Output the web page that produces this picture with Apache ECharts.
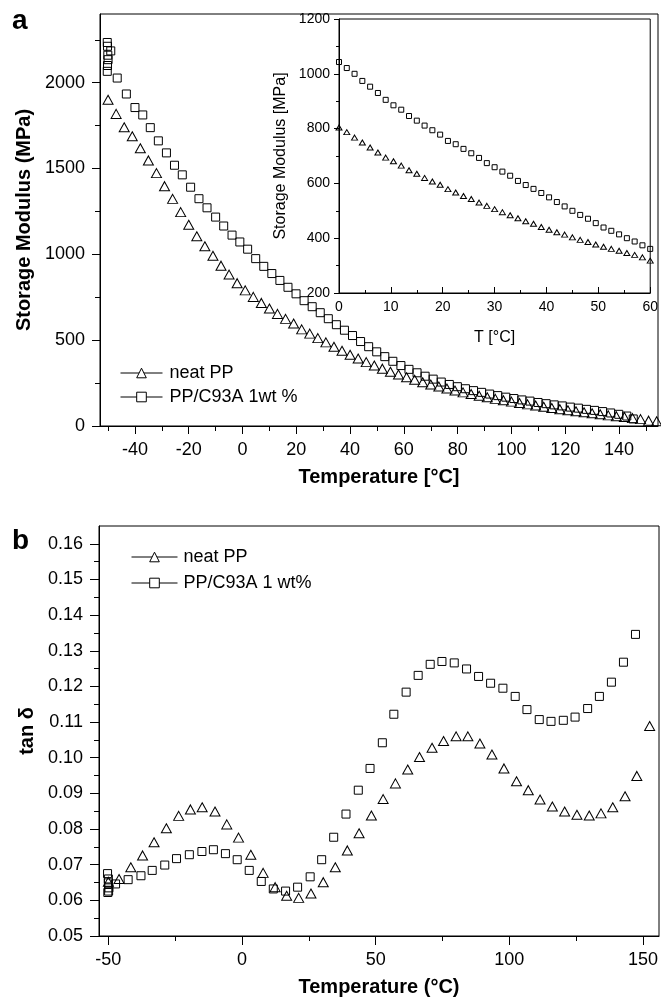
<!DOCTYPE html>
<html><head><meta charset="utf-8">
<script src="https://cdn.jsdelivr.net/npm/echarts@6/dist/echarts.min.js"></script>
<style>html,body{margin:0;padding:0;background:#fff}#c{width:661px;height:1000px}</style>
</head><body><div id="c"></div>
<script>
// ---------------- DATA ----------------
// Panel a, main plot: storage modulus (MPa) vs temperature (°C)
const mainNeatT = [-50,-47,-44,-41,-38,-35,-32,-29,-26,-23,-20,-17,-14,-11,-8,-5,-2,1,4,7,10,13,16,19,22,25,28,31,34,37,40,43,46,49,52,55,58,61,64,67,70,73,76,79,82,85,88,91,94,97,100,103,106,109,112,115,118,121,124,127,130,133,136,139,142,145,148,151,154];
const mainNeatM = [1900,1818,1740,1688,1618,1547,1473,1397,1323,1246,1172,1105,1047,992,934,882,832,790,752,717,684,653,624,597,563,538,512,487,462,438,415,393,372,352,334,316,300,284,269,255,242,230,218,207,196,186,176,167,158,150,142,134,126,119,112,105,98,92,86,80,74,68,62,57,52,46,40,31,28];
const mainNanoT = [-50.3,-50.2,-49.0,-50.1,-50.0,-50.2,-50.3,-46.6,-43.2,-40.0,-37.1,-34.3,-31.3,-28.3,-25.3,-22.4,-19.3,-16.2,-13.2,-10.0,-7.0,-3.9,-1.0,1.9,4.9,7.9,10.9,13.9,16.9,19.9,22.9,25.9,28.9,31.9,34.9,37.9,40.9,43.9,46.9,49.9,52.9,55.9,58.9,61.9,64.9,67.9,70.9,73.9,76.9,79.9,82.9,85.9,88.9,91.9,94.9,97.9,100.9,103.9,106.9,109.9,112.9,115.9,118.9,121.9,124.9,127.9,130.9,133.9,136.9,139.9,142.9,145.3];
const mainNanoM = [2234,2212,2185,2160,2134,2100,2066,2027,1934,1855,1812,1738,1661,1591,1519,1463,1391,1324,1271,1217,1165,1112,1072,1030,975,930,888,848,808,770,730,695,660,625,590,558,527,492,462,432,404,377,352,330,310,290,273,256,242,229,217,206,196,186,177,168,160,152,145,137,130,123,117,110,104,97,91,84,76,68,58,41];
// Panel a, inset: 0-60 °C
const insetT = [0,1.5,3,4.5,6,7.5,9,10.5,12,13.5,15,16.5,18,19.5,21,22.5,24,25.5,27,28.5,30,31.5,33,34.5,36,37.5,39,40.5,42,43.5,45,46.5,48,49.5,51,52.5,54,55.5,57,58.5,60];
const insetNeatM = [804,787,767,749,731,713,694,681,665,648,635,620,607,595,579,567,554,543,530,518,506,495,484,473,462,453,441,431,422,413,403,394,386,377,369,361,354,346,339,330,318];
const insetNanoM = [1043,1021,1000,974,953,930,905,885,869,846,829,811,794,778,755,743,726,710,693,674,659,643,628,609,594,580,565,549,532,516,500,485,471,455,439,427,414,400,388,374,361];
// Panel b: tan delta vs temperature (°C)
const tanNeatT = [-50,-46.0,-41.6,-37.2,-32.9,-28.3,-23.7,-19.3,-14.9,-10.1,-5.7,-1.3,3.3,7.9,12.4,16.7,21.2,25.8,30.4,34.9,39.4,43.8,48.4,52.8,57.4,62.0,66.4,71.1,75.4,80.1,84.5,89.0,93.5,98.0,102.7,107.1,111.5,116.1,120.7,125.3,129.9,134.3,138.7,143.3,147.7,152.5];
const tanNeatV = [0.0652,0.0660,0.0693,0.0726,0.0763,0.0802,0.0837,0.0855,0.0861,0.0849,0.0813,0.0776,0.0728,0.0677,0.0637,0.0613,0.0607,0.0619,0.0651,0.0693,0.0740,0.0788,0.0838,0.0884,0.0928,0.0967,0.1002,0.1028,0.1047,0.1060,0.1060,0.1040,0.1009,0.0970,0.0934,0.0909,0.0883,0.0863,0.0849,0.0840,0.0838,0.0844,0.0861,0.0892,0.0949,0.1089];
const tanNanoT = [-50.3,-50.0,-50.0,-49.8,-49.9,-50.2,-47.3,-42.6,-37.8,-33.6,-28.9,-24.5,-19.7,-15.0,-10.7,-6.2,-1.8,2.7,7.2,11.7,16.3,20.8,25.5,29.8,34.3,38.9,43.5,47.9,52.5,56.8,61.4,65.9,70.4,74.8,79.4,84.0,88.5,93.0,97.6,102.2,106.6,111.2,115.6,120.2,124.6,129.3,133.7,138.2,142.7,147.2];
const tanNanoV = [0.0675,0.0660,0.0649,0.0635,0.0626,0.0622,0.0646,0.0658,0.0669,0.0684,0.0699,0.0717,0.0728,0.0737,0.0742,0.0731,0.0714,0.0684,0.0653,0.0632,0.0626,0.0637,0.0666,0.0714,0.0777,0.0842,0.0909,0.0970,0.1042,0.1122,0.1184,0.1231,0.1262,0.1270,0.1266,0.1249,0.1228,0.1209,0.1195,0.1172,0.1135,0.1107,0.1102,0.1105,0.1114,0.1138,0.1172,0.1212,0.1268,0.1346];

// Tick values / labels
const mainXTicks = [-40,-20,0,20,40,60,80,100,120,140];
const mainXMinor = [-50,-30,-10,10,30,50,70,90,110,130,150];
const mainYTicks = [0,500,1000,1500,2000];
const mainYMinor = [250,750,1250,1750,2250];
const botXTicks = [-50,0,50,100,150];
const botXMinor = [-25,25,75,125];
const botYTicks = [0.05,0.06,0.07,0.08,0.09,0.10,0.11,0.12,0.13,0.14,0.15,0.16];
const botYMinor = [0.055,0.065,0.075,0.085,0.095,0.105,0.115,0.125,0.135,0.145,0.155];

const legendA = ['neat PP', 'PP/C93A 1wt %'];
const legendB = ['neat PP', 'PP/C93A 1 wt%'];

// ---------------- CHART ----------------
const FONT = '"Liberation Sans", Arial, Helvetica, sans-serif';
const zip = (a, b) => a.map((v, i) => [v, b[i]]);
const chart = echarts.init(document.getElementById('c'), null, {renderer: 'canvas'});

const BLACK = '#000';
const axisLine = {show: true, onZero: false, lineStyle: {color: BLACK, width: 1}};
function majorAxis(o) {
  return Object.assign({
    type: 'value', splitLine: {show: false}, axisLine: axisLine,
    nameTextStyle: {fontFamily: FONT, fontSize: 20, fontWeight: 'bold', color: BLACK},
    nameLocation: 'middle'
  }, o);
}
function minorAxis(o, len, inside) {
  return Object.assign({
    type: 'value', splitLine: {show: false}, axisLine: {show: false, onZero: false},
    axisLabel: {show: false}
  }, o, {axisTick: {show: true, inside: !!inside, length: len, lineStyle: {color: BLACK, width: 1}, customValues: o.values}});
}

const markerStyle = {color: 'rgba(0,0,0,0)', borderColor: BLACK, borderWidth: 1};
function ser(name, xi, yi, data, symbol, size) {
  return {
    type: 'line', name: name, xAxisIndex: xi, yAxisIndex: yi, data: data,
    symbol: symbol, symbolSize: size, showSymbol: true, showAllSymbol: true,
    lineStyle: {width: 0, opacity: 0}, itemStyle: markerStyle,
    emphasis: {disabled: true}, silent: true, clip: true, z: 3
  };
}

const legendCommon = {
  orient: 'vertical', itemHeight: 12, selectedMode: false,
  lineStyle: {width: 1, opacity: 1, color: BLACK, type: 'solid'},
  itemStyle: {color: '#fff', borderColor: BLACK, borderWidth: 1, opacity: 1},
  padding: 0
};

const option = {
  animation: false,
  backgroundColor: '#fff',
  title: [
    {text: 'a', left: 12, top: 7, padding: 0, textStyle: {fontFamily: FONT, fontSize: 28, fontWeight: 'bold', color: BLACK}},
    {text: 'b', left: 12, top: 527, padding: 0, textStyle: {fontFamily: FONT, fontSize: 28, fontWeight: 'bold', color: BLACK}}
  ],
  grid: [
    {left: 100, top: 14, width: 558, height: 412, show: true, borderColor: BLACK, borderWidth: 1, backgroundColor: 'transparent'},
    {left: 100, top: 14, width: 558, height: 412, show: false},
    {left: 339, top: 19, width: 316, height: 274, show: true, borderColor: BLACK, borderWidth: 1, backgroundColor: '#fff'},
    {left: 99, top: 526, width: 560, height: 410, show: true, borderColor: BLACK, borderWidth: 1, backgroundColor: 'transparent'},
    {left: 99, top: 526, width: 560, height: 410, show: false}
  ],
  xAxis: [
    majorAxis({gridIndex: 0, min: -53, max: 154.5, name: 'Temperature [°C]', nameGap: 41,
      axisTick: {show: true, length: 8, lineStyle: {color: BLACK}, customValues: mainXTicks},
      axisLabel: {fontFamily: FONT, fontSize: 18, color: BLACK, margin: 15, customValues: mainXTicks, formatter: v => String(v)}}),
    minorAxis({gridIndex: 1, min: -53, max: 154.5, values: mainXMinor}, 5, false),
    majorAxis({gridIndex: 2, min: 0, max: 60, interval: 10, name: 'T [°C]', nameGap: 37,
      nameTextStyle: {fontFamily: FONT, fontSize: 16, color: BLACK},
      axisTick: {show: true, inside: true, length: 6, lineStyle: {color: BLACK}},
      minorTick: {show: true, splitNumber: 2, length: 3, lineStyle: {color: BLACK}},
      axisLabel: {fontFamily: FONT, fontSize: 14, color: BLACK, margin: 7, formatter: v => String(v)}}),
    majorAxis({gridIndex: 3, min: -53.5, max: 156, name: 'Temperature (°C)', nameGap: 41,
      axisTick: {show: true, length: 9, lineStyle: {color: BLACK}, customValues: botXTicks},
      axisLabel: {fontFamily: FONT, fontSize: 18, color: BLACK, margin: 15, customValues: botXTicks, formatter: v => String(v)}}),
    minorAxis({gridIndex: 4, min: -53.5, max: 156, values: botXMinor}, 5, false)
  ],
  yAxis: [
    majorAxis({gridIndex: 0, min: 0, max: 2400, name: 'Storage Modulus (MPa)', nameGap: 66,
      axisTick: {show: true, length: 8, lineStyle: {color: BLACK}, customValues: mainYTicks},
      axisLabel: {fontFamily: FONT, fontSize: 18, color: BLACK, margin: 15, customValues: mainYTicks, formatter: v => String(v)}}),
    minorAxis({gridIndex: 1, min: 0, max: 2400, values: mainYMinor}, 5, false),
    majorAxis({gridIndex: 2, min: 200, max: 1200, interval: 200, name: 'Storage Modulus [MPa]', nameGap: 50,
      nameTextStyle: {fontFamily: FONT, fontSize: 16, color: BLACK},
      axisTick: {show: true, inside: false, length: 5, lineStyle: {color: BLACK}},
      minorTick: {show: true, splitNumber: 2, length: 3, lineStyle: {color: BLACK}},
      axisLabel: {fontFamily: FONT, fontSize: 14, color: BLACK, margin: 9, formatter: v => String(v)}}),
    majorAxis({gridIndex: 3, min: 0.05, max: 0.165, name: 'tan δ', nameGap: 57,
      axisTick: {show: true, length: 9, lineStyle: {color: BLACK}, customValues: botYTicks},
      axisLabel: {fontFamily: FONT, fontSize: 18, color: BLACK, margin: 16, customValues: botYTicks, formatter: v => v.toFixed(2)}}),
    minorAxis({gridIndex: 4, min: 0.05, max: 0.165, values: botYMinor}, 5, false)
  ],
  legend: [
    Object.assign({}, legendCommon, {left: 120, top: 364, itemWidth: 42, itemGap: 6, data: legendA,
      textStyle: {fontFamily: FONT, fontSize: 18, color: BLACK, padding: [0, 0, 0, 2]}}),
    Object.assign({}, legendCommon, {left: 131, top: 548, itemWidth: 46, itemGap: 8, data: legendB,
      textStyle: {fontFamily: FONT, fontSize: 18, color: BLACK, padding: [0, 0, 0, 1]}})
  ],
  series: [
    ser('neat PP', 0, 0, zip(mainNeatT, mainNeatM), 'triangle', [10, 9]),
    ser('PP/C93A 1wt %', 0, 0, zip(mainNanoT, mainNanoM), 'rect', 8),
    ser('neat PP inset', 2, 2, zip(insetT, insetNeatM), 'triangle', [6, 5]),
    ser('PP/C93A inset', 2, 2, zip(insetT, insetNanoM), 'rect', 5),
    ser('neat PP', 3, 3, zip(tanNeatT, tanNeatV), 'triangle', [10, 9]),
    ser('PP/C93A 1 wt%', 3, 3, zip(tanNanoT, tanNanoV), 'rect', 8)
  ]
};
chart.setOption(option);
</script></body></html>
